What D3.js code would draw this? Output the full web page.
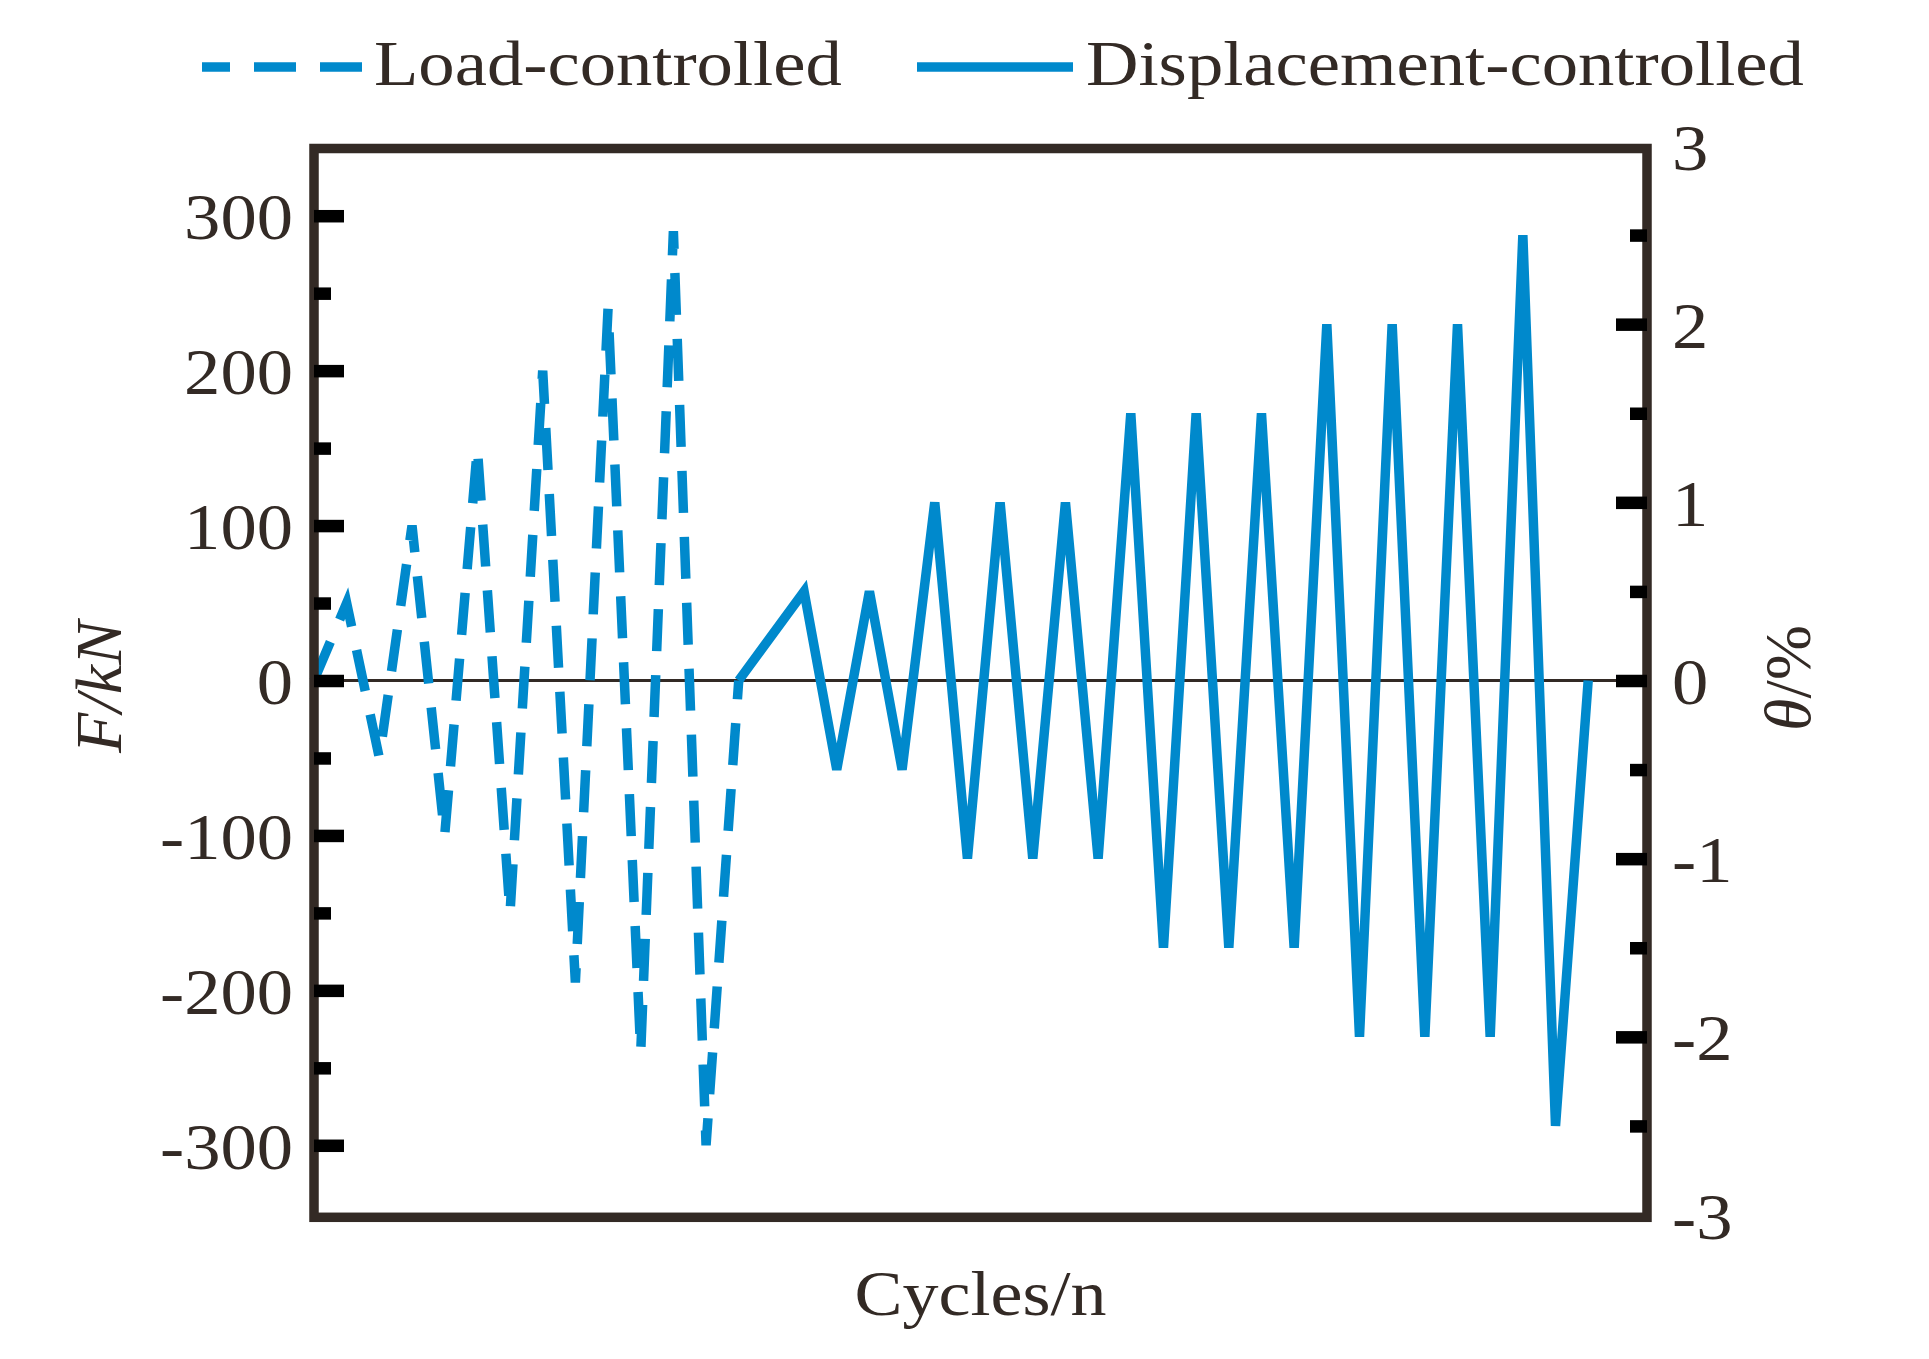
<!DOCTYPE html>
<html>
<head>
<meta charset="utf-8">
<script src="https://cdn.jsdelivr.net/npm/d3@7"></script>
<style>
  body { margin: 0; background: #fff; }
  text { font-family: "Liberation Serif", "Times New Roman", serif; }
</style>
</head>
<body>
<div id="chart-holder"></div>
<script>
// ****DATA****
// load-controlled stage, read against the left axis (kN)
const loadCycle = [0, 1, 2, 3, 4, 5, 6, 7, 8, 9, 10, 11, 12, 13];
const loadForce = [0, 50, -50, 100, -100, 150, -150, 200, -195, 240, -240, 290, -300, 0];
// displacement-controlled stage, read against the right axis (%)
const dispCycle = [13, 15, 16, 17, 18, 19, 20, 21, 22, 23, 24, 25, 26, 27, 28, 29, 30, 31, 32, 33, 34, 35, 36, 37, 38, 39];
const dispDrift = [0, 0.5, -0.5, 0.5, -0.5, 1, -1, 1, -1, 1, -1, 1.5, -1.5, 1.5, -1.5, 1.5, -1.5, 2, -2, 2, -2, 2, -2, 2.5, -2.5, 0];
// tick values
const leftMajor = [-300, -200, -100, 0, 100, 200, 300];
const leftMinor = [-250, -150, -50, 50, 150, 250];
const rightMajor = [-3, -2, -1, 0, 1, 2, 3];
const rightMinor = [-2.5, -1.5, -0.5, 0.5, 1.5, 2.5];
const legendLabels = ["Load-controlled", "Displacement-controlled"];

// ****CANVAS****
const width = 1929;
const height = 1359;
const plotLeft = 314, plotRight = 1647, plotTop = 146, plotBottom = 1215;
const ink = "#332a25";
const blue = "#0089cc";

const svg = d3.select("#chart-holder")
    .append("svg")
    .attr("width", width)
    .attr("height", height)
    .style("display", "block");

// ****SCALES****
const xScale = d3.scaleLinear().domain([0, 40.8]).range([plotLeft, plotRight]);
const yLeft = d3.scaleLinear().domain([-345, 345]).range([plotBottom, plotTop]);
const yRight = d3.scaleLinear().domain([-3, 3]).range([plotBottom, plotTop]);

// zero line
svg.append("line")
    .attr("x1", plotLeft + 5).attr("x2", plotRight - 5)
    .attr("y1", yLeft(0)).attr("y2", yLeft(0))
    .attr("stroke", ink)
    .attr("stroke-width", 3);

// ****SERIES****
const loadLine = d3.line()
    .x((d, i) => xScale(loadCycle[i]))
    .y(d => yLeft(d));
const dispLine = d3.line()
    .x((d, i) => xScale(dispCycle[i]))
    .y(d => yRight(d));

svg.append("path")
    .datum(loadForce)
    .attr("d", loadLine)
    .attr("fill", "none")
    .attr("stroke", blue)
    .attr("stroke-width", 9.5)
    .attr("stroke-dasharray", "42,24");

svg.append("path")
    .datum(dispDrift)
    .attr("d", dispLine)
    .attr("fill", "none")
    .attr("stroke", blue)
    .attr("stroke-width", 9.5);

// frame
svg.append("rect")
    .attr("x", plotLeft).attr("y", 148.5)
    .attr("width", plotRight - plotLeft)
    .attr("height", 1217.3 - 148.5)
    .attr("fill", "none")
    .attr("stroke", ink)
    .attr("stroke-width", 9.5);

// ****AXES****
function styleAxis(g, pad, anchor) {
    g.select(".domain").remove();
    g.selectAll(".tick line")
        .attr("stroke", "#000")
        .attr("stroke-width", 12.5);
    g.selectAll(".tick text")
        .attr("x", null)
        .attr("dy", "0.35em")
        .attr("transform", `translate(${pad},0) scale(1.1,1)`)
        .attr("text-anchor", anchor)
        .style("font-size", "66px")
        .style("fill", ink);
}

svg.append("g")
    .attr("transform", `translate(${plotLeft},0)`)
    .call(d3.axisLeft(yLeft).tickValues(leftMajor).tickSizeInner(-30).tickSizeOuter(0)
        .tickFormat(d => String(d)))
    .call(g => styleAxis(g, -21, "end"));

svg.append("g")
    .attr("transform", `translate(${plotLeft},0)`)
    .call(d3.axisLeft(yLeft).tickValues(leftMinor).tickSizeInner(-17).tickSizeOuter(0).tickFormat(""))
    .call(g => styleAxis(g, 0, "end"));

svg.append("g")
    .attr("transform", `translate(${plotRight},0)`)
    .call(d3.axisRight(yRight).tickValues(rightMajor).tickSizeInner(-31).tickSizeOuter(0)
        .tickFormat(d => String(d)))
    .call(g => styleAxis(g, 25, "start"))
    // the end ticks sit on the frame, only their labels show
    .call(g => g.selectAll(".tick").filter(d => Math.abs(d) === 3).select("line").remove());

svg.append("g")
    .attr("transform", `translate(${plotRight},0)`)
    .call(d3.axisRight(yRight).tickValues(rightMinor).tickSizeInner(-17).tickSizeOuter(0).tickFormat(""))
    .call(g => styleAxis(g, 0, "start"));

// axis titles
svg.append("text")
    .attr("transform", `translate(${(plotLeft + plotRight) / 2},1315) scale(1.125,1)`)
    .attr("text-anchor", "middle")
    .style("font-size", "64px")
    .style("fill", ink)
    .text("Cycles/n");

svg.append("text")
    .attr("transform", "translate(121,687) rotate(-90)")
    .attr("text-anchor", "middle")
    .style("font-size", "66px")
    .style("font-style", "italic")
    .style("fill", ink)
    .text("F/kN");

svg.append("text")
    .attr("transform", "translate(1810,678) rotate(-90)")
    .attr("text-anchor", "middle")
    .style("font-size", "66px")
    .style("fill", ink)
    .html('<tspan font-style="italic">θ</tspan>/%');

// ****LEGEND****
svg.append("line")
    .attr("x1", 202).attr("x2", 362)
    .attr("y1", 67).attr("y2", 67)
    .attr("stroke", blue)
    .attr("stroke-width", 9.5)
    .attr("stroke-dasharray", "42,24")
    .attr("stroke-dashoffset", 14);
svg.append("text")
    .attr("transform", "translate(374,85) scale(1.135,1)")
    .style("font-size", "64px")
    .style("fill", ink)
    .text(legendLabels[0]);

svg.append("line")
    .attr("x1", 917).attr("x2", 1073)
    .attr("y1", 67).attr("y2", 67)
    .attr("stroke", blue)
    .attr("stroke-width", 9.5);
svg.append("text")
    .attr("transform", "translate(1086,85) scale(1.135,1)")
    .style("font-size", "64px")
    .style("fill", ink)
    .text(legendLabels[1]);
</script>
</body>
</html>
